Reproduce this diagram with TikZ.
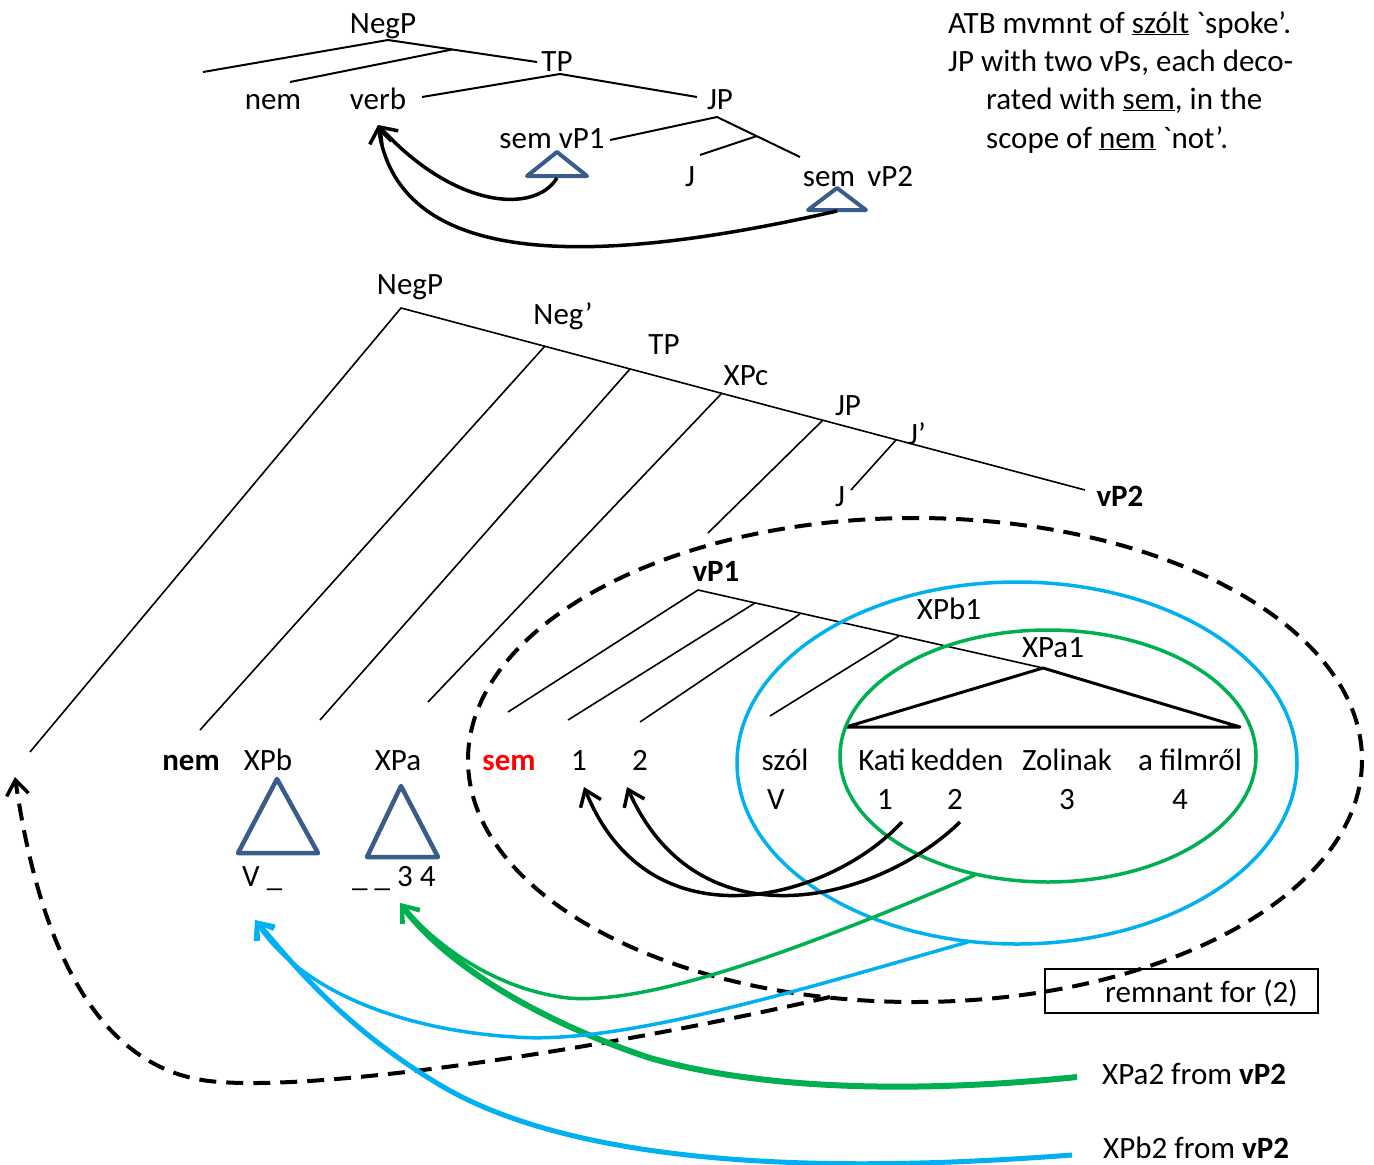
\documentclass[tikz,border=0pt]{standalone}
\usepackage{fontspec}
\setmainfont{Carlito}[Ligatures=TeXOff]
\usetikzlibrary{arrows.meta}
\definecolor{triblue}{RGB}{56,93,138}
\definecolor{offgreen}{RGB}{0,176,80}
\definecolor{offblue}{RGB}{0,176,240}
\newcommand{\fsz}{\fontsize{31}{37}\selectfont}
\begin{document}
\begin{tikzpicture}[x=1pt,y=-1pt,
  every node/.style={font=\fsz, inner sep=0pt},
  lab/.style={anchor=base},
  edgeA/.style={line width=2pt},
  edgeB/.style={line width=1.6pt},
  tri/.style={draw=triblue, line width=4pt, line join=round},
  bigtri/.style={draw=triblue, line width=4.5pt, line join=round},
  tipA/.style={-{Straight Barb[length=15pt,width=22pt,line width=3.5pt]}},
  mvblack/.style={line width=3.5pt, tipA},
  mvgreen/.style={draw=offgreen, tipA},
  mvblue/.style={draw=offblue, tipA},
  remn/.style={line width=4pt, dash pattern=on 17pt off 10pt},
]
\useasboundingbox (0,0) rectangle (1374,1165);

% ---------------- top tree ----------------
\node[lab] (tNegP) at (383,33) {NegP};
\node[lab] (tTP) at (557,71) {TP};
\node[lab] (tnem) at (273,109) {nem};
\node[lab] (tverb) at (378,109) {verb};
\node[lab] (tJP) at (720,109) {JP};
\node[lab] (tsem1) at (552,148) {sem vP1};
\node[lab] (tJ) at (690,186) {J};
\node[lab] (tsem2) at (858,186) {sem\, vP2};

\coordinate (tA) at (388,40);
\coordinate (tL) at (203,72);
\coordinate (tN) at (452,49.5);
\coordinate (tNl) at (290,82);
\coordinate (tTPr) at (537,62);
\coordinate (tB) at (560,74);
\coordinate (tBl) at (422,97);
\coordinate (tBr) at (697,97);
\coordinate (tC) at (717,117);
\coordinate (tCl) at (610,140);
\coordinate (tCr) at (800,157);
\coordinate (tD) at (757,136);
\coordinate (tDl) at (700,155);

\draw[edgeA] (tL) -- (tA) -- (tTPr);
\draw[edgeA] (tNl) -- (tN);
\draw[edgeA] (tBl) -- (tB) -- (tBr);
\draw[edgeA] (tCl) -- (tC) -- (tCr);
\draw[edgeA] (tDl) -- (tD);

\coordinate (tr1a) at (557,152);
\coordinate (tr1b) at (527,176);
\coordinate (tr1c) at (587,176);
\draw[tri] (tr1a) -- (tr1b) -- (tr1c) -- cycle;
\coordinate (tr2a) at (837,188);
\coordinate (tr2b) at (808,210);
\coordinate (tr2c) at (866,210);
\draw[tri] (tr2a) -- (tr2b) -- (tr2c) -- cycle;

\coordinate (tr1s) at (557,178);
\coordinate (tr2s) at (837,211);
\coordinate (verbtip) at (378,125);
\draw[mvblack] (tr1s) .. controls (535,214) and (455,209) .. (verbtip);
\draw[mvblack] (tr2s) .. controls (600,265) and (400,272) .. (verbtip);

% ---------------- top right comment ----------------
\node[anchor=base west] (c1) at (948,33) {ATB mvmnt of \underline{szólt} `spoke’.};
\node[anchor=base west] (c2) at (948,71) {JP with two vPs, each deco-};
\node[anchor=base west] (c3) at (986,109) {rated with \underline{sem}, in the};
\node[anchor=base west] (c4) at (986,148) {scope of \underline{nem} `not’.};

% ---------------- bottom tree ----------------
\node[lab] (bNegP) at (410,294) {NegP};
\node[lab] (bNeg) at (563,324) {Neg’};
\node[lab] (bTP) at (664,354) {TP};
\node[lab] (bXPc) at (746,385) {XPc};
\node[lab] (bJP) at (848,415) {JP};
\node[lab] (bJb) at (917,444) {J’};
\node[lab] (bJ) at (840,506) {J};
\node[lab,font=\fsz\bfseries] (bvP2) at (1120,506) {vP2};
\node[lab,font=\fsz\bfseries] (bvP1) at (716,581) {vP1};
\node[lab] (bXPb1) at (949,619) {XPb1};
\node[lab] (bXPa1) at (1053,657) {XPa1};

\coordinate (b0) at (401,308);
\coordinate (bend) at (1085,490);
\coordinate (b0l) at (30,752);
\coordinate (b1) at (545,346);
\coordinate (b1l) at (200,730);
\coordinate (b2) at (630,369);
\coordinate (b2l) at (320,720);
\coordinate (b3) at (722,393);
\coordinate (b3l) at (428,702);
\coordinate (b4) at (823,420);
\coordinate (b4l) at (708,533);
\coordinate (b5) at (896,440);
\coordinate (b5l) at (851,490);

\draw[edgeB] (b0l) -- (b0) -- (bend);
\draw[edgeB] (b1l) -- (b1);
\draw[edgeB] (b2l) -- (b2);
\draw[edgeB] (b3l) -- (b3);
\draw[edgeB] (b4l) -- (b4);
\draw[edgeB] (b5l) -- (b5);

\coordinate (v0) at (698,590);
\coordinate (v0l) at (508,712);
\coordinate (v1) at (755,603);
\coordinate (v1l) at (568,720);
\coordinate (v2) at (800,614);
\coordinate (v2l) at (640,722);
\coordinate (v3) at (899,636);
\coordinate (v3l) at (770,716);
\coordinate (xa) at (1043,668);
\coordinate (xal) at (846,727);
\coordinate (xar) at (1240,727);

\draw[edgeB] (v0l) -- (v0) -- (xa);
\draw[edgeB] (v1l) -- (v1);
\draw[edgeB] (v2l) -- (v2);
\draw[edgeB] (v3l) -- (v3);
\draw[line width=3pt, line join=round] (xa) -- (xal) -- (xar) -- cycle;

% leaves row 1
\node[lab,font=\fsz\bfseries] (lnem) at (191,770) {nem};
\node[lab] (lXPb) at (268,770) {XPb};
\node[lab] (lXPa) at (398,770) {XPa};
\node[lab,font=\fsz\bfseries,text=red] (lsem) at (509,770) {sem};
\node[lab] (l1) at (579,770) {1};
\node[lab] (l2) at (640,770) {2};
\node[lab] (lszol) at (785,770) {szól};
\node[lab] (lKati) at (882,770) {Kati};
\node[lab] (lkedden) at (957,770) {kedden};
\node[lab] (lZolinak) at (1067,770) {Zolinak};
\node[lab] (lfilm) at (1190,770) {a filmről};
% row 2
\node[lab] (rV) at (776,809) {V};
\node[lab] (r1) at (885,809) {1};
\node[lab] (r2) at (955,809) {2};
\node[lab] (r3) at (1067,809) {3};
\node[lab] (r4) at (1180,809) {4};

% big triangles
\coordinate (T1a) at (277,779);
\coordinate (T1b) at (238,853);
\coordinate (T1c) at (318,853);
\draw[bigtri] (T1a) -- (T1b) -- (T1c) -- cycle;
\coordinate (T2a) at (401,786);
\coordinate (T2b) at (367,857);
\coordinate (T2c) at (438,857);
\draw[bigtri] (T2a) -- (T2b) -- (T2c) -- cycle;
\node[anchor=base west] (uV) at (242,886) {V \_};
\node[anchor=base west] (u34) at (352,886) {\_ \_ 3 4};

% ellipses
\coordinate (gc) at (1048,756);
\coordinate (bc) at (1017,763);
\coordinate (dc) at (915,760);
\draw[offgreen, line width=3.5pt] (gc) ellipse [x radius=208, y radius=126];
\draw[offblue, line width=3.5pt] (bc) ellipse [x radius=280, y radius=181];
\draw[remn] (dc) ellipse [x radius=447, y radius=242];

% remnant box
\node[draw, line width=1.8pt, minimum width=273pt, minimum height=44pt] (rembox) at (1181.5,991) {};
\node[anchor=base east] (remtxt) at (1298,1002) {remnant for (2)};

% black movement arrows
\coordinate (s1) at (902,822);
\coordinate (s2) at (960,822);
\coordinate (e1) at (584,787);
\coordinate (e2) at (627,787);
\draw[mvblack] (s1) .. controls (830,900) and (650,950) .. (e1);
\draw[mvblack] (s2) .. controls (880,900) and (700,950) .. (e2);

% dashed remnant movement
\coordinate (ds) at (830,997);
\coordinate (dm) at (220,1082);
\coordinate (dt) at (15,777);
\draw[remn, tipA] (ds) .. controls (600,1050) and (330,1090) .. (dm)
   .. controls (100,1075) and (40,950) .. (dt);

% green arrows
\coordinate (gs) at (975,875);
\coordinate (gm) at (568,998);
\coordinate (gt) at (400,903);
\draw[mvgreen, line width=3.5pt] (gs) .. controls (800,950) and (650,1005) .. (gm)
   .. controls (500,990) and (440,950) .. (gt);
\node[anchor=base west] (XPa2) at (1102,1084) {XPa2 from \textbf{vP2}};
\coordinate (g2s) at (1077,1077);
\coordinate (g2m) at (650,1058);
\draw[mvgreen, line width=6pt] (g2s) .. controls (950,1090) and (780,1095) .. (g2m)
   .. controls (550,1025) and (450,970) .. (gt);

% blue arrows
\coordinate (bs) at (968,942);
\coordinate (bm) at (515,1037);
\coordinate (bt) at (255,920);
\draw[mvblue, line width=3.5pt] (bs) .. controls (800,990) and (620,1045) .. (bm)
   .. controls (400,1030) and (300,990) .. (bt);
\node[anchor=base west] (XPb2) at (1103,1158) {XPb2 from \textbf{vP2}};
\coordinate (b2s) at (1072,1155);
\coordinate (b2m) at (440,1085);
\draw[mvblue, line width=5pt] (b2s) .. controls (900,1168) and (600,1180) .. (b2m)
   .. controls (340,1025) and (290,960) .. (bt);
\end{tikzpicture}
\end{document}
